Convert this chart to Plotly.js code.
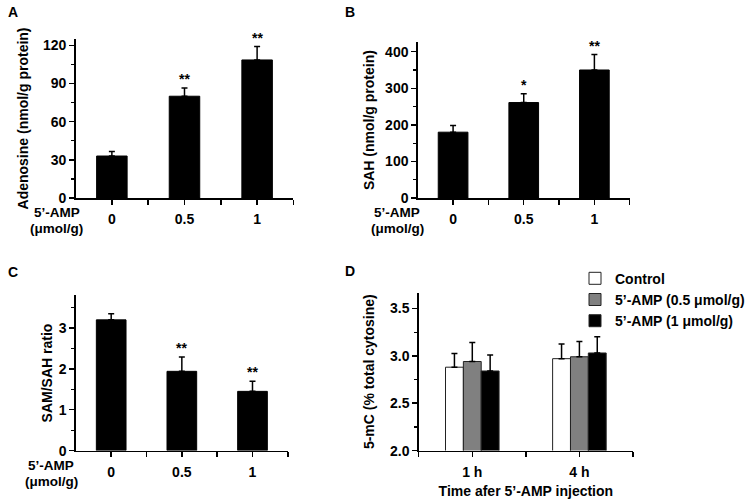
<!DOCTYPE html>
<html>
<head>
<meta charset="utf-8">
<script src="https://cdn.plot.ly/plotly-3.0.1.min.js"></script>
<style>
  html, body { margin: 0; padding: 0; background: #fff; }
  #chart { width: 750px; height: 503px; }
</style>
</head>
<body>
<div id="chart"></div>
<script>
// ---- data ----
const doseCats = ['0', '0.5', '1'];
const adenosine = [33, 80, 108.5];
const adenosineErr = [3.5, 6.5, 10.5];
const adenosineSig = ['', '**', '**'];

const sah = [180, 261, 350];
const sahErr = [18, 24, 42];
const sahSig = ['', '*', '**'];

const ratio = [3.2, 1.94, 1.45];
const ratioErr = [0.15, 0.35, 0.25];
const ratioSig = ['', '**', '**'];

const timeCats = ['1 h', '4 h'];
const control = [2.88, 2.97];
const controlErr = [0.145, 0.155];
const amp05 = [2.94, 2.99];
const amp05Err = [0.20, 0.16];
const amp1 = [2.84, 3.03];
const amp1Err = [0.17, 0.17];
const seriesNames = ['Control', '5’-AMP (0.5 μmol/g)', '5’-AMP (1 μmol/g)'];

// ---- styling ----
const FAM = 'Liberation Sans, Arial, sans-serif';
const FS = 14;
const F = (size) => ({ family: FAM, size: size, color: '#000', weight: 'bold' });

function errY(arr) {
  return { type: 'data', array: arr, arrayminus: arr.map(() => 0), symmetric: false,
           color: '#000', thickness: 1.5, width: 3 };
}
const idx = (arr) => arr.map((_, i) => i);

const traces = [];
function singleBar(vals, errs, xa, ya) {
  traces.push({ type: 'bar', x: idx(doseCats), y: vals, xaxis: xa, yaxis: ya, width: 0.42,
    marker: { color: '#000', line: { color: '#000', width: 1 } },
    error_y: errY(errs), showlegend: false, hoverinfo: 'skip' });
}
singleBar(adenosine, adenosineErr, 'x', 'y');
singleBar(sah, sahErr, 'x2', 'y2');
singleBar(ratio, ratioErr, 'x3', 'y3');

const dSeries = [[control, controlErr, '#ffffff'], [amp05, amp05Err, '#808080'], [amp1, amp1Err, '#000000']];
dSeries.forEach((s, k) => {
  traces.push({ type: 'bar', name: seriesNames[k], x: idx(timeCats), y: s[0], xaxis: 'x4', yaxis: 'y4',
    marker: { color: s[2], line: { color: '#222', width: 1 } },
    error_y: errY(s[1]), hoverinfo: 'skip' });
});

function xAx(domain, anchor, cats, minorVals) {
  return { domain: domain, anchor: anchor, range: [-0.5, cats.length - 0.5],
    tickmode: 'array', tickvals: idx(cats), ticktext: cats,
    showline: true, linecolor: '#000', linewidth: 1.5, mirror: false,
    ticks: 'outside', ticklen: 5, tickwidth: 1.5, tickcolor: '#000',
    minor: { tickmode: 'array', tickvals: minorVals, ticks: 'outside', ticklen: 5, tickwidth: 1.5, tickcolor: '#000' },
    showgrid: false, zeroline: false, tickfont: F(FS), fixedrange: true, ticklabelstandoff: 3 };
}
function yAx(domain, anchor, range, dtick, minorDtick, title, standoff, fmt) {
  return { domain: domain, anchor: anchor, range: range, tick0: range[0], dtick: dtick,
    showline: true, linecolor: '#000', linewidth: 1.5,
    ticks: 'outside', ticklen: 5, tickwidth: 1.5, tickcolor: '#000',
    minor: { tick0: range[0], dtick: minorDtick, ticks: 'outside', ticklen: 3, tickwidth: 1.2, tickcolor: '#000' },
    showgrid: false, zeroline: false, tickfont: F(FS), tickformat: fmt || '',
    title: { text: title, font: F(FS), standoff: standoff }, automargin: true, fixedrange: true };
}

const annotations = [];
function sigAnn(vals, errs, sig, xr, yr) {
  vals.forEach((v, i) => {
    if (sig[i]) annotations.push({ x: i, y: v + errs[i], xref: xr, yref: yr, text: sig[i],
      showarrow: false, yanchor: 'bottom', xanchor: 'center', yshift: -1, font: F(FS) });
  });
}
sigAnn(adenosine, adenosineErr, adenosineSig, 'x', 'y');
sigAnn(sah, sahErr, sahSig, 'x2', 'y2');
sigAnn(ratio, ratioErr, ratioSig, 'x3', 'y3');

function paperText(text, xpx, ypx, xanchor, size) {
  annotations.push({ text: text, x: xpx / 750, y: 1 - ypx / 503, xref: 'paper', yref: 'paper',
    showarrow: false, xanchor: xanchor || 'center', yanchor: 'middle', font: F(size || FS), borderpad: 0 });
}
function doseLabel(xpx, ypx) {
  paperText('5’-AMP', xpx, ypx, 'center', 13.5);
  paperText('(μmol/g)', xpx, ypx + 16, 'center', 13.5);
}
doseLabel(58, 215);
doseLabel(405, 215);
doseLabel(52, 473);
paperText('A', 7, 10, 'left');
paperText('B', 351, 10, 'left');
paperText('C', 7, 275, 'left');
paperText('D', 351, 274, 'left');

const layout = {
  width: 750, height: 503,
  margin: { l: 0, r: 0, t: 0, b: 0 },
  paper_bgcolor: '#fff', plot_bgcolor: 'rgba(0,0,0,0)',
  font: F(FS),
  barmode: 'group', bargap: 0.5, bargroupgap: 0,
  showlegend: true,
  legend: { x: 586 / 750, y: 1 - 266 / 503, xanchor: 'left', yanchor: 'top',
    font: F(FS), bgcolor: 'rgba(0,0,0,0)', traceorder: 'normal', tracegroupgap: 0 },
  xaxis: xAx([77 / 750, 299 / 750], 'y', doseCats, [0.5, 1.5, 2.5]),
  yaxis: yAx([1 - 200 / 503, 1 - 37.7 / 503], 'x', [0, 125], 30, 15, 'Adenosine (nmol/g protein)', 11),
  xaxis2: xAx([425.7 / 750, 641.7 / 750], 'y2', doseCats, [0.5, 1.5, 2.5]),
  yaxis2: yAx([1 - 200 / 503, 1 - 41 / 503], 'x2', [0, 426], 100, 50, 'SAH (nmol/g protein)', 7),
  xaxis3: xAx([77.3 / 750, 293.3 / 750], 'y3', doseCats, [0.5, 1.5, 2.5]),
  yaxis3: yAx([1 - 457.7 / 503, 1 - 299.3 / 503], 'x3', [0, 3.8], 1, 0.5, 'SAM/SAH ratio', 3),
  xaxis4: Object.assign(xAx([426.7 / 750, 645 / 750], 'y4', timeCats, [-0.5, 0.5, 1.5]),
    { title: { text: 'Time afer 5’-AMP injection', font: F(FS), standoff: 7 } }),
  yaxis4: yAx([1 - 457.7 / 503, 1 - 296.7 / 503], 'x4', [2, 3.665], 0.5, 0.25, '5-mC (% total cytosine)', 12, '.1f'),
  annotations: annotations
};

Plotly.newPlot('chart', traces, layout, { displayModeBar: false, staticPlot: true });
</script>
</body>
</html>
